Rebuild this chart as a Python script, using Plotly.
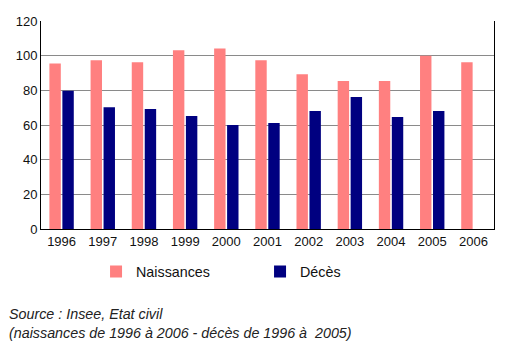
import plotly.graph_objects as go

years = ["1996", "1997", "1998", "1999", "2000", "2001",
         "2002", "2003", "2004", "2005", "2006"]
naissances = [95.5, 97.3, 96.2, 103.1, 104.2, 97.3, 89.3, 85.4, 85.4, 99.9, 96.2]
deces = [79.8, 70.3, 69.2, 65.2, 60.0, 61.1, 68.1, 76.1, 64.6, 68.1, None]

font_family = "Liberation Sans, Arial, sans-serif"

fig = go.Figure()
fig.add_trace(go.Bar(x=years, y=naissances, name="Naissances",
                     marker=dict(color="#FF8080", line=dict(width=0))))
fig.add_trace(go.Bar(x=years, y=deces, name="Décès",
                     marker=dict(color="#000080", line=dict(width=0))))

fig.update_layout(
    width=516, height=350,
    margin=dict(l=41, r=22, t=21, b=121),
    paper_bgcolor="white", plot_bgcolor="white",
    barmode="group", bargap=0.37, bargroupgap=0.12,
    font=dict(family=font_family, size=13, color="#111"),
    showlegend=True,
    legend=dict(orientation="h", x=0.1215, xanchor="left", y=-0.205, yanchor="middle",
                entrywidth=119, font=dict(size=14.3, color="#111"),
                bgcolor="rgba(0,0,0,0)"),
    xaxis=dict(showline=True, linecolor="black", linewidth=1,
               ticks="", showgrid=False, tickfont=dict(size=13)),
    yaxis=dict(range=[0, 120], dtick=20, showline=True, linecolor="black",
               linewidth=1, mirror=True, showgrid=True, gridcolor="#8a8a8a",
               gridwidth=1, ticks="", zeroline=False, tickfont=dict(size=13)),
)

fig.add_annotation(text="<i>Source : Insee, Etat civil</i>",
                   xref="paper", yref="paper", x=-0.076, xanchor="left",
                   y=-0.41, yanchor="middle", showarrow=False,
                   font=dict(size=14.3, color="#222"))
fig.add_annotation(text="<i>(naissances de 1996 à 2006 - décès de 1996 à  2005)</i>",
                   xref="paper", yref="paper", x=-0.076, xanchor="left",
                   y=-0.50, yanchor="middle", showarrow=False,
                   font=dict(size=14.3, color="#222"))

fig.write_html("out.html")
